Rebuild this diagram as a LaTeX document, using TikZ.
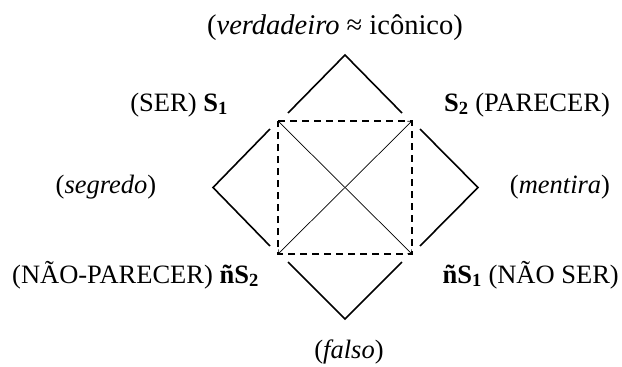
\documentclass[tikz,border=0pt]{standalone}
\usepackage{fontspec}
\setmainfont{Liberation Serif}
\usetikzlibrary{arrows.meta}
\begin{document}
\begin{tikzpicture}[x=1pt,y=-1pt,
  lbl/.style={inner sep=0pt, font=\fontsize{26.5}{30}\selectfont},
  chev/.style={line width=1.6pt},
  dsq/.style={line width=1.2pt, dash pattern=on 7pt off 5pt},
  diag/.style={line width=0.7pt, {Straight Barb[length=3pt,width=6pt]}-{Straight Barb[length=3pt,width=6pt]}}]
\useasboundingbox (0,0) rectangle (622,367);
% square corners
\coordinate (A) at (278,121);
\coordinate (B) at (412,121);
\coordinate (D) at (278,254);
\coordinate (E) at (412,254);
% diamond apexes
\coordinate (T) at (345,55);
\coordinate (L) at (213,187.5);
\coordinate (R) at (478,187.5);
\coordinate (Bo) at (345,319);
% chevron ends
\coordinate (T1) at (288,113);
\coordinate (T2) at (402,113);
\coordinate (L1) at (270,129);
\coordinate (L2) at (270,246);
\coordinate (R1) at (420,129);
\coordinate (R2) at (420,246);
\coordinate (B1) at (288,262);
\coordinate (B2) at (402,262);
% chevrons
\draw[chev] (T1) -- (T) -- (T2);
\draw[chev] (L1) -- (L) -- (L2);
\draw[chev] (R1) -- (R) -- (R2);
\draw[chev] (B1) -- (Bo) -- (B2);
% dashed square
\draw[dsq] (A) -- (B) -- (E) -- (D) -- cycle;
% diagonals
\draw[diag] (A) -- (E);
\draw[diag] (D) -- (B);
% labels
\node[lbl, anchor=base, font=\fontsize{28.5}{32}\selectfont] (top) at (335,34) {(\textit{verdadeiro} ≈ icônico)};
\node[lbl, anchor=base east] (s1) at (228,111) {(SER) \textbf{S\textsubscript{1}}};
\node[lbl, anchor=base west] (s2) at (444,111) {\textbf{S\textsubscript{2}} (PARECER)};
\node[lbl, anchor=base] (seg) at (106,193) {(\textit{segredo})};
\node[lbl, anchor=base] (men) at (560,193) {(\textit{mentira})};
\node[lbl, anchor=base east] (ns2) at (259,283) {(NÃO-PARECER) \textbf{ñS\textsubscript{2}}};
\node[lbl, anchor=base east] (ns1) at (619,283) {\textbf{ñS\textsubscript{1}} (NÃO SER)};
\node[lbl, anchor=base] (fal) at (349,358) {(\textit{falso})};
\end{tikzpicture}
\end{document}
